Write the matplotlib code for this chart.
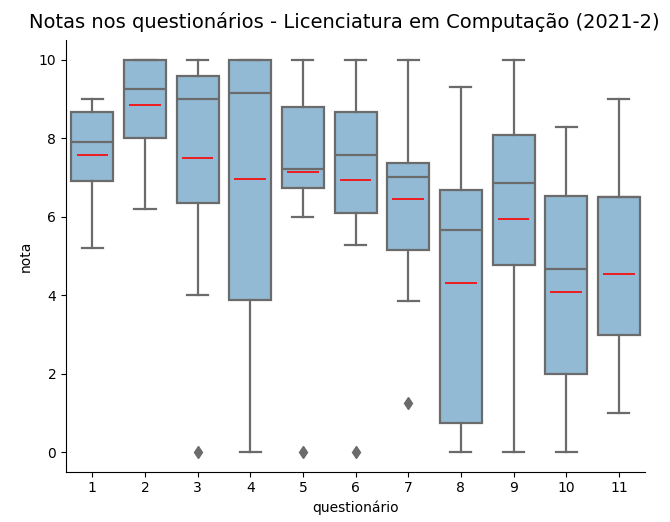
import numpy as np
import matplotlib
matplotlib.use("Agg")
import matplotlib.pyplot as plt

# questionarios 1..11
questionarios = ["1", "2", "3", "4", "5", "6", "7", "8", "9", "10", "11"]
whislo = [5.2, 6.2, 4.0, 0.0, 6.0, 5.28, 3.85, 0.0, 0.0, 0.0, 1.0]
q1 = [6.9, 8.0, 6.35, 3.88, 6.72, 6.09, 5.14, 0.75, 4.76, 2.0, 2.98]
med = [7.91, 9.25, 9.0, 9.15, 7.22, 7.58, 7.0, 5.67, 6.86, 4.66, 6.51]
q3 = [8.68, 10.0, 9.58, 10.0, 8.8, 8.66, 7.36, 6.68, 8.08, 6.54, 6.51]
whishi = [9.0, 10.0, 10.0, 10.0, 10.0, 10.0, 10.0, 9.3, 10.0, 8.29, 9.0]
medias = [7.57, 8.85, 7.5, 6.97, 7.15, 6.94, 6.46, 4.31, 5.95, 4.07, 4.55]
outliers = [[], [], [0.0], [], [0.0], [0.0], [1.26], [], [], [], []]

stats = []
for i in range(len(questionarios)):
    stats.append(dict(whislo=whislo[i], q1=q1[i], med=med[i], q3=q3[i],
                      whishi=whishi[i], fliers=outliers[i], label=questionarios[i]))

fig = plt.figure(figsize=(6.7, 5.22), dpi=100)
ax = fig.add_axes([0.0985, 0.0964, 0.8645, 0.8266])

cor = "#92bad4"
cinza = "#6b6b6b"
pos = np.arange(len(questionarios))
ax.bxp(stats, positions=pos, widths=0.8, patch_artist=True,
       boxprops=dict(facecolor=cor, edgecolor=cinza, linewidth=1.6),
       whiskerprops=dict(color=cinza, linewidth=1.6),
       capprops=dict(color=cinza, linewidth=1.6),
       medianprops=dict(color=cinza, linewidth=1.6),
       flierprops=dict(marker="d", markerfacecolor=cinza, markeredgecolor=cinza, markersize=6),
       capwidths=0.4)

# media em vermelho
ax.hlines(medias, pos - 0.3, pos + 0.3, colors="red", linewidth=1.2, zorder=5)

ax.set_xlim(-0.5, 10.5)
ax.set_ylim(-0.5, 10.5)
ax.set_yticks([0, 2, 4, 6, 8, 10])
ax.set_xticks(pos)
ax.set_xticklabels(questionarios)
ax.spines["top"].set_visible(False)
ax.spines["right"].set_visible(False)
ax.set_xlabel("questionário")
ax.set_ylabel("nota")
ax.set_title("Notas nos questionários - Licenciatura em Computação (2021-2)", fontsize=14, x=0.48, pad=9)

fig.savefig("out.png", dpi=100)
